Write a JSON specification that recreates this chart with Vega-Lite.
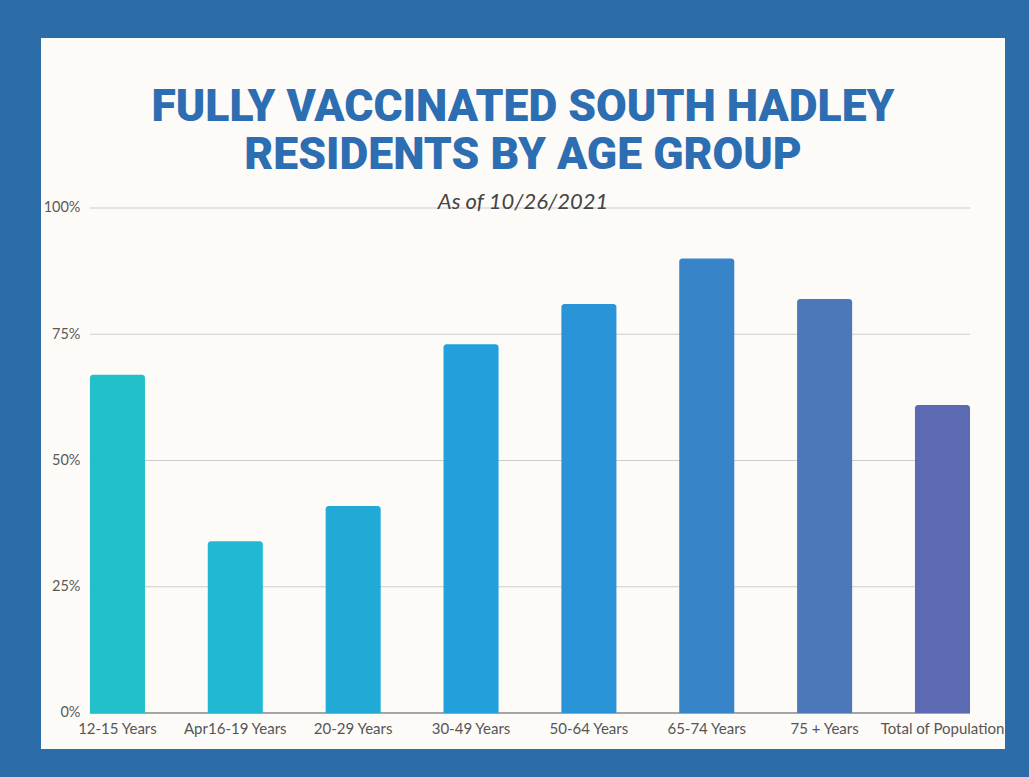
{
  "$schema": "https://vega.github.io/schema/vega-lite/v6.json",
  "width": 964,
  "height": 711,
  "autosize": {"type": "none"},
  "padding": {"left": 41, "top": 38, "right": 24, "bottom": 28},
  "background": "#2b6ca9",
  "config": {
    "view": {"fill": "#fdfbf8", "stroke": null},
    "font": "Lato"
  },
  "title": {
    "text": ["FULLY VACCINATED SOUTH HADLEY", "RESIDENTS BY AGE GROUP"],
    "subtitle": "As of 10/26/2021",
    "anchor": "middle",
    "frame": "group",
    "offset": -176,
    "font": "Roboto",
    "fontSize": 44.5,
    "fontWeight": 900,
    "lineHeight": 48,
    "color": "#2d6db1",
    "subtitleFont": "Lato",
    "subtitleFontSize": 22,
    "subtitleFontStyle": "italic",
    "subtitleColor": "#444444",
    "subtitlePadding": 14
  },
  "datasets": {
    "bars": [
      {"group": "12-15 Years", "pct": 67},
      {"group": "Apr16-19 Years", "pct": 34},
      {"group": "20-29 Years", "pct": 41},
      {"group": "30-49 Years", "pct": 73},
      {"group": "50-64 Years", "pct": 81},
      {"group": "65-74 Years", "pct": 90},
      {"group": "75 + Years", "pct": 82},
      {"group": "Total of Population", "pct": 61}
    ],
    "grid": [
      {"pct": 0, "from": "12-15 Years", "to": "Total of Population", "kind": "base"},
      {"pct": 25, "from": "12-15 Years", "to": "Total of Population", "kind": "line"},
      {"pct": 50, "from": "12-15 Years", "to": "Total of Population", "kind": "line"},
      {"pct": 75, "from": "12-15 Years", "to": "Total of Population", "kind": "line"},
      {"pct": 100, "from": "12-15 Years", "to": "Total of Population", "kind": "line"}
    ]
  },
  "layer": [
    {
      "data": {"name": "grid"},
      "mark": {"type": "rule"},
      "encoding": {
        "x": {"field": "from", "type": "nominal", "bandPosition": 0, "sort": null},
        "x2": {"field": "to", "bandPosition": 1},
        "y": {"field": "pct", "type": "quantitative"},
        "color": {"field": "kind", "type": "nominal", "scale": {"domain": ["base", "line"], "range": ["#a5a5a5", "#cccccc"]}, "legend": null},
        "strokeWidth": {"field": "kind", "type": "nominal", "scale": {"domain": ["base", "line"], "range": [2, 1.2]}, "legend": null}
      }
    },
    {
      "data": {"name": "bars"},
      "mark": {"type": "bar", "cornerRadiusTopLeft": 3, "cornerRadiusTopRight": 3},
      "encoding": {
        "x": {
          "field": "group", "type": "nominal", "sort": null,
          "scale": {"domain": ["12-15 Years", "Apr16-19 Years", "20-29 Years", "30-49 Years", "50-64 Years", "65-74 Years", "75 + Years", "Total of Population"], "paddingInner": 0.533, "paddingOuter": 0.356, "align": 0.583},
          "axis": {"title": null, "labelAngle": 0, "labelAlign": "center", "labelBaseline": "top", "bandPosition": 0.5, "ticks": false, "domain": false, "offset": -36, "labelPadding": 8, "labelFontSize": 15, "labelColor": "#555555", "labelFont": "Lato", "grid": false}
        },
        "y": {
          "field": "pct", "type": "quantitative",
          "scale": {"domain": [-7.13, 133.66], "nice": false, "zero": false},
          "axis": {"title": null, "values": [0, 25, 50, 75, 100], "labelExpr": "datum.value + '%'", "ticks": false, "domain": false, "grid": false, "offset": -49, "labelPadding": 10, "labelFontSize": 14.5, "labelColor": "#595959", "labelFont": "Lato"}
        },
        "y2": {"datum": 0},
        "color": {
          "field": "group", "type": "nominal", "legend": null,
          "scale": {"domain": ["12-15 Years", "Apr16-19 Years", "20-29 Years", "30-49 Years", "50-64 Years", "65-74 Years", "75 + Years", "Total of Population"],
                    "range": ["#22c0c8", "#21b8d3", "#22aad7", "#22a0db", "#2a94d8", "#3784c9", "#4c78ba", "#5c6ab3"]}
        }
      }
    }
  ],
  "resolve": {"scale": {"color": "independent"}}
}
